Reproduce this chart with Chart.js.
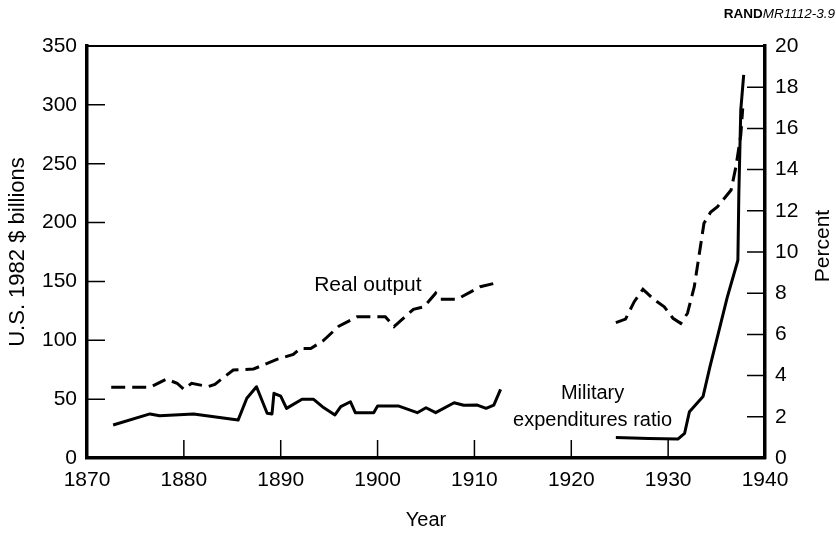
<!DOCTYPE html>
<html>
<head>
<meta charset="utf-8">
<script src="https://cdn.jsdelivr.net/npm/chart.js@4"></script>
<style>
  html, body { margin: 0; padding: 0; background: #fff; }
  #wrap { width: 836px; height: 534px; }
</style>
</head>
<body>
<div id="wrap"><canvas id="chart" width="836" height="534"></canvas></div>
<script>
// values (x = year, real output in 1982 $ billions, ratio in percent)
const outputYears = [1872.5, 1876.5, 1878.2, 1879.3, 1880.0, 1880.8, 1882.5, 1883.2, 1885.1, 1887.2,
  1889.6, 1891.3, 1892.0, 1893.1, 1894.4, 1896.0, 1897.9, 1900.8, 1901.7, 1903.7,
  1904.8, 1906.0, 1906.5, 1908.2, 1910.6, 1912.4, 1918,
  1924.6, 1925.6, 1926.5, 1927.4, 1928.6, 1929.6, 1930.5, 1931.3, 1932.0, 1932.7,
  1933.7, 1934.4, 1935.1, 1936.5, 1937.0, 1937.5, 1937.7];
const outputValues = [60, 60, 67, 63.5, 58.4, 63.5, 60.6, 62.6, 74.8, 75.6,
  83.8, 88, 93, 93, 99.7, 112, 120, 120, 111.6, 126.3,
  128.5, 140, 134.8, 134.8, 145.5, 149, null,
  115, 118, 132.8, 143.3, 134.2, 128.5, 118.7, 114.4, 123, 145.5,
  199.4, 209, 213.5, 227.7, 247.5, 274.4, 297];

const ratioYears = [1872.7, 1876.5, 1877.5, 1881.0, 1885.6, 1886.5, 1887.5, 1888.6, 1889.1, 1889.3,
  1890.0, 1890.6, 1892.2, 1893.4, 1894.3, 1895.6, 1896.2, 1897.2, 1897.7, 1899.6,
  1900.0, 1902.2, 1904.1, 1905.0, 1906.0, 1907.9, 1908.9, 1910.3, 1911.2, 1912.0,
  1912.7, 1918,
  1924.6, 1928.0, 1931.0, 1931.7, 1932.2, 1933.6, 1934.3, 1935.1, 1936.1, 1937.2,
  1937.3, 1937.5, 1937.8];
const ratioValues = [1.6, 2.14, 2.05, 2.14, 1.84, 2.9, 3.46, 2.17, 2.14, 3.14,
  3.0, 2.41, 2.85, 2.85, 2.49, 2.09, 2.49, 2.73, 2.2, 2.2,
  2.52, 2.52, 2.2, 2.44, 2.2, 2.68, 2.56, 2.57, 2.41, 2.57,
  3.33, null,
  1.0, 0.95, 0.92, 1.2, 2.25, 2.98, 4.4, 5.9, 7.8, 9.6,
  12.85, 16.9, 18.6];

const yearTicks = [1870, 1880, 1890, 1900, 1910, 1920, 1930, 1940];
const billionTicks = [0, 50, 100, 150, 200, 250, 300, 350];
const percentTicks = [0, 2, 4, 6, 8, 10, 12, 14, 16, 18, 20];

const FONT = "'Liberation Sans', Arial, Helvetica, sans-serif";

function toPoints(xs, ys) {
    return xs.map((x, i) => ({ x: x, y: ys[i] }));
}

// ticks in this figure point inward, plus a thin top frame line and text notes
const figureExtras = {
    id: 'figureExtras',
    afterDraw(chart) {
        const { ctx, chartArea: a, scales } = chart;
        const x = scales.x, y = scales.y, y1 = scales.y1;
        ctx.save();
        ctx.strokeStyle = '#000';
        ctx.lineWidth = 1.5;
        ctx.beginPath();
        yearTicks.slice(1, -1).forEach(v => {
            const px = x.getPixelForValue(v);
            ctx.moveTo(px, a.bottom);
            ctx.lineTo(px, a.bottom - 18);
        });
        billionTicks.slice(1, -1).forEach(v => {
            const py = y.getPixelForValue(v);
            ctx.moveTo(a.left, py);
            ctx.lineTo(a.left + 18, py);
        });
        percentTicks.slice(1, -1).forEach(v => {
            const py = y1.getPixelForValue(v);
            ctx.moveTo(a.right, py);
            ctx.lineTo(a.right - 18, py);
        });
        ctx.stroke();

        ctx.lineWidth = 2;
        ctx.beginPath();
        ctx.moveTo(a.left, a.top);
        ctx.lineTo(a.right, a.top);
        ctx.stroke();

        ctx.fillStyle = '#000';
        ctx.font = '21px ' + FONT;
        ctx.textAlign = 'center';
        ctx.textBaseline = 'middle';
        ctx.fillText('Real output', x.getPixelForValue(1899.0), y.getPixelForValue(147));
        ctx.font = '20px ' + FONT;
        ctx.fillText('Military', x.getPixelForValue(1922.2), y.getPixelForValue(55));
        ctx.fillText('expenditures ratio', x.getPixelForValue(1922.2), y.getPixelForValue(32));

        // right axis title reads bottom to top
        ctx.save();
        ctx.font = '21px ' + FONT;
        ctx.translate(823, (a.top + a.bottom) / 2 - 6);
        ctx.rotate(-Math.PI / 2);
        ctx.fillText('Percent', 0, 0);
        ctx.restore();

        // source tag
        ctx.textAlign = 'left';
        ctx.textBaseline = 'alphabetic';
        ctx.font = 'bold 13.5px ' + FONT;
        const w1 = ctx.measureText('RAND').width;
        ctx.font = 'italic 13.5px ' + FONT;
        const w2 = ctx.measureText('MR1112-3.9').width;
        const start = 835 - w1 - w2;
        ctx.font = 'bold 13.5px ' + FONT;
        ctx.fillText('RAND', start, 18);
        ctx.font = 'italic 13.5px ' + FONT;
        ctx.fillText('MR1112-3.9', start + w1, 18);
        ctx.restore();
    }
};

const ctx = document.getElementById('chart');
new Chart(ctx.getContext('2d'), {
    type: 'line',
    data: {
        datasets: [{
            label: 'Real output',
            data: toPoints(outputYears, outputValues),
            yAxisID: 'y',
            borderColor: '#000',
            borderWidth: 3,
            borderDash: [14, 7],
            borderCapStyle: 'butt',
            pointRadius: 0,
            tension: 0,
            spanGaps: false
        }, {
            label: 'Military expenditures ratio',
            data: toPoints(ratioYears, ratioValues),
            yAxisID: 'y1',
            borderColor: '#000',
            borderWidth: 3,
            borderJoinStyle: 'round',
            pointRadius: 0,
            tension: 0,
            spanGaps: false
        }]
    },
    options: {
        responsive: false,
        animation: false,
        layout: { padding: { top: 46, left: 0, right: 0, bottom: 0 } },
        plugins: { legend: { display: false }, tooltip: { enabled: false } },
        scales: {
            x: {
                type: 'linear',
                min: 1870,
                max: 1940,
                afterFit: s => { s.height = 76; },
                afterBuildTicks: s => { s.ticks = yearTicks.map(v => ({ value: v })); },
                grid: { display: false, drawTicks: false },
                border: { display: true, color: '#000', width: 3.5 },
                ticks: {
                    color: '#000',
                    padding: 10,
                    font: { family: FONT, size: 21 },
                    callback: v => String(v)
                },
                title: {
                    display: true,
                    text: 'Year',
                    color: '#000',
                    font: { family: FONT, size: 20 },
                    padding: { bottom: 2 }
                }
            },
            y: {
                position: 'left',
                min: 0,
                max: 350,
                afterFit: s => { s.width = 87; },
                afterBuildTicks: s => { s.ticks = billionTicks.map(v => ({ value: v })); },
                grid: { display: false, drawTicks: false },
                border: { display: true, color: '#000', width: 3.5 },
                ticks: {
                    color: '#000',
                    padding: 10,
                    font: { family: FONT, size: 21 }
                },
                title: {
                    display: true,
                    text: 'U.S. 1982 $ billions',
                    color: '#000',
                    font: { family: FONT, size: 22 },
                    padding: { top: 5 }
                }
            },
            y1: {
                position: 'right',
                min: 0,
                max: 20,
                afterFit: s => { s.width = 71; },
                afterBuildTicks: s => { s.ticks = percentTicks.map(v => ({ value: v })); },
                grid: { display: false, drawTicks: false },
                border: { display: true, color: '#000', width: 3.5 },
                ticks: {
                    color: '#000',
                    padding: 10,
                    font: { family: FONT, size: 21 }
                }
            }
        }
    },
    plugins: [figureExtras]
});
</script>
</body>
</html>
